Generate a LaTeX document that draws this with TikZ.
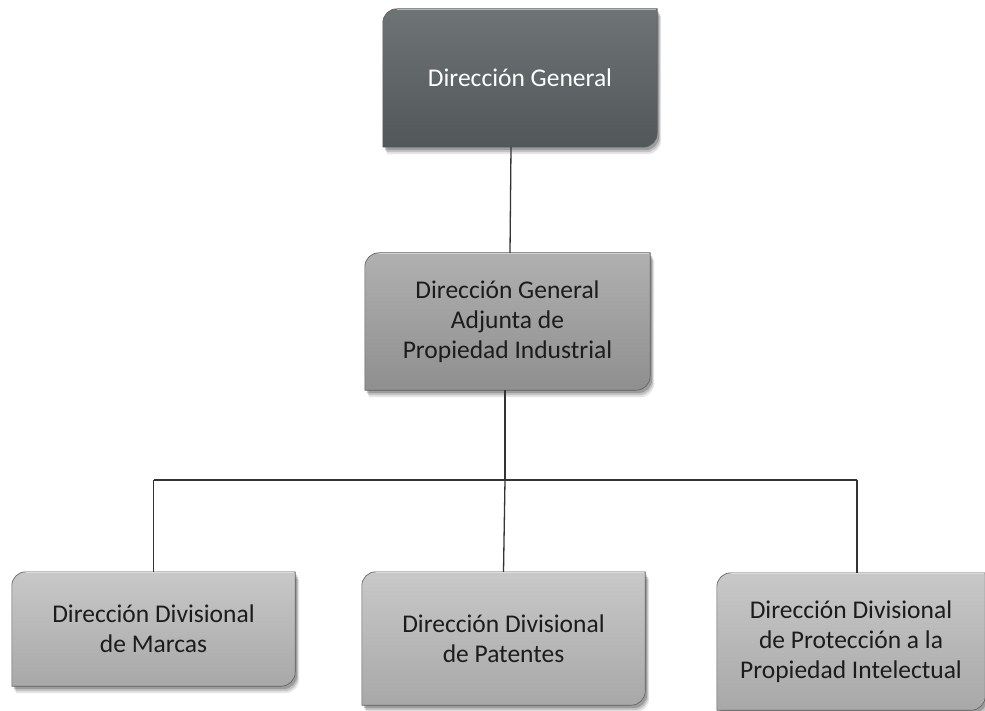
\documentclass[tikz,border=0pt]{standalone}
\usepackage{fontspec}
\setmainfont{Carlito}
\pgfdeclarelayer{bg}
\pgfsetlayers{bg,main}
\definecolor{topA}{HTML}{6E7376}
\definecolor{topB}{HTML}{525759}
\definecolor{midA}{HTML}{B0B0B0}
\definecolor{midB}{HTML}{8F8F8F}
\definecolor{lowA}{HTML}{C8C8C8}
\definecolor{lowB}{HTML}{A8A8A8}
\definecolor{edge}{HTML}{5E5E5E}
\definecolor{txt}{HTML}{1C1C1C}
\newcommand\rdshape[3]{([xshift=#2,yshift=#3-14pt]#1.north west) arc[start angle=180,end angle=90,radius=14pt] -- ([xshift=#2,yshift=#3]#1.north east) -- ([xshift=#2,yshift=#3+14pt]#1.south east) arc[start angle=0,end angle=-90,radius=14pt] -- ([xshift=#2,yshift=#3]#1.south west) -- cycle}
\newcommand\orgbox[3]{%
  \begin{pgfonlayer}{bg}
    \fill[black,opacity=.10] \rdshape{#1}{4pt}{-7pt};
    \fill[black,opacity=.15] \rdshape{#1}{3pt}{-5pt};
    \fill[black,opacity=.20] \rdshape{#1}{2pt}{-3pt};
    \shade[top color=#2,bottom color=#3] \rdshape{#1}{0pt}{0pt};
    \draw[edge,line width=.6pt] \rdshape{#1}{0pt}{0pt};
    \draw[white,opacity=.5,line width=1pt] ([xshift=14pt,yshift=-1pt]#1.north west) -- ([xshift=-1pt,yshift=-1pt]#1.north east);
  \end{pgfonlayer}}
\tikzset{
  unit/.style={inner sep=0pt, align=center, text=txt,
    font=\fontsize{25.5}{30}\selectfont},
  conn/.style={draw=black!80, line width=1.3pt}
}
\begin{document}
\begin{tikzpicture}[x=1pt,y=-1pt]
\useasboundingbox (0,0) rectangle (985,711);
\node[unit, text=white, minimum width=274pt, minimum height=138pt] (dg) at (520,78) {Dirección General};
\node[unit, minimum width=285pt, minimum height=137pt] (dga) at (507.5,321.5) {Dirección General\\Adjunta de\\Propiedad Industrial};
\node[unit, minimum width=283pt, minimum height=114pt] (ma) at (153.5,629) {Dirección Divisional\\de Marcas};
\node[unit, minimum width=283pt, minimum height=133pt] (pa) at (503.5,638.5) {Dirección Divisional\\de Patentes};
\node[unit, minimum width=268pt, minimum height=137pt] (pi) at (851,641.5) {Dirección Divisional\\de Protección a la\\Propiedad Intelectual};
\orgbox{dg}{topA}{topB}
\orgbox{dga}{midA}{midB}
\orgbox{ma}{lowA}{lowB}
\orgbox{pa}{lowA}{lowB}
\orgbox{pi}{lowA}{lowB}
\coordinate (j) at (505,480);
\coordinate (jr) at (857,480);
\begin{pgfonlayer}{bg}
\draw[conn] ([xshift=-9pt]dg.south) -- ([xshift=2.5pt]dga.north);
\draw[conn] ([xshift=-2.5pt]dga.south) -- (j);
\draw[conn] (j -| ma.north) -- (jr);
\draw[conn] (j -| ma.north) -- (ma.north);
\draw[conn] (j) -- (pa.north);
\draw[conn] (jr) -- (jr |- pi.north);
\end{pgfonlayer}
\end{tikzpicture}
\end{document}
